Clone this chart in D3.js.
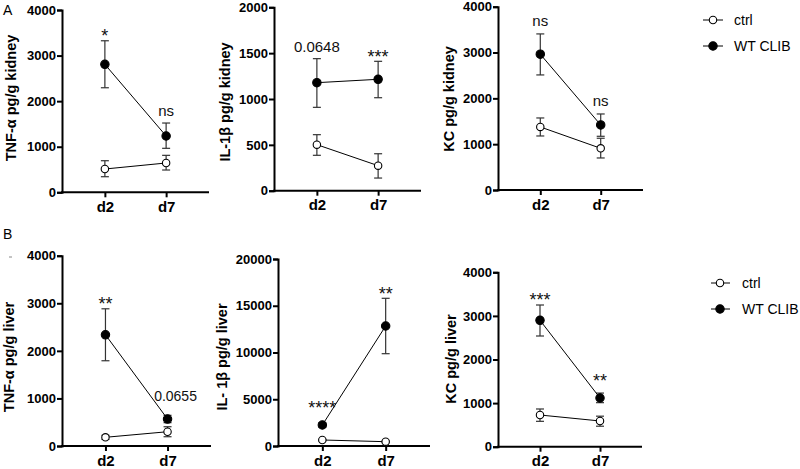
<!DOCTYPE html>
<html><head><meta charset="utf-8">
<script src="https://cdn.jsdelivr.net/npm/d3@7"></script>
<style>body{margin:0;background:#fff}svg{display:block}</style>
</head><body>
<script>
// ---------- data ----------
const days = ["d2", "d7"];
const seriesNames = ["ctrl", "WT CLIB"];

// A: kidney
const tnfKidneyCtrl = [511, 643], tnfKidneyCtrlLo = [342, 489], tnfKidneyCtrlHi = [693, 811];
const tnfKidneyWT = [2807, 1235], tnfKidneyWTLo = [2294, 965], tnfKidneyWTHi = [3325, 1520];
const il1bKidneyCtrl = [502, 273], il1bKidneyCtrlLo = [386, 138], il1bKidneyCtrlHi = [611, 403];
const il1bKidneyWT = [1178, 1215], il1bKidneyWTLo = [909, 1014], il1bKidneyWTHi = [1440, 1411];
const kcKidneyCtrl = [1376, 910], kcKidneyCtrlLo = [1179, 699], kcKidneyCtrlHi = [1572, 1129];
const kcKidneyWT = [2963, 1419], kcKidneyWTLo = [2511, 1172], kcKidneyWTHi = [3406, 1659];
// B: liver
const tnfLiverCtrl = [183, 300], tnfLiverCtrlLo = [140, 195], tnfLiverCtrlHi = [225, 405];
const tnfLiverWT = [2338, 567], tnfLiverWTLo = [1792, 490], tnfLiverWTHi = [2884, 645];
const il1bLiverCtrl = [642, 460], il1bLiverCtrlLo = [560, 390], il1bLiverCtrlHi = [720, 530];
const il1bLiverWT = [2246, 12834], il1bLiverWTLo = [2000, 9872], il1bLiverWTHi = [2500, 15797];
const kcLiverCtrl = [727, 590], kcLiverCtrlLo = [582, 470], kcLiverCtrlHi = [865, 700];
const kcLiverWT = [2899, 1117], kcLiverWTLo = [2539, 1010], kcLiverWTHi = [3250, 1230];

// tick labels
const ticks4000 = [0, 1000, 2000, 3000, 4000];
const ticks2000 = [0, 500, 1000, 1500, 2000];
const ticks20000 = [0, 5000, 10000, 15000, 20000];

// significance labels
const tnfKidneySig = ["*", "ns"];
const il1bKidneySig = ["0.0648", "***"];
const kcKidneySig = ["ns", "ns"];
const tnfLiverSig = ["**", "0.0655"];
const il1bLiverSig = ["****", "**"];
const kcLiverSig = ["***", "**"];

// y titles
const titles = ["TNF-α pg/g kidney", "IL-1β pg/g kidney", "KC pg/g kidney",
                "TNF-α pg/g liver", "IL- 1β pg/g liver", "KC pg/g liver"];

// ---------- layout (positions only) ----------
const layout = [
  {x0: 62,  x1: 209, top: 10,    bot: 192.3, tx: 11,  ty: 98,  sigSize: 15, noteDx: 0, noteGap: 7},
  {x0: 274, x1: 421, top: 7.3,   bot: 190.7, tx: 225, ty: 102, sigSize: 15, noteDx: 0, noteGap: 7},
  {x0: 498, x1: 643, top: 6.7,   bot: 190,   tx: 449, ty: 99,  sigSize: 15, noteDx: 0, noteGap: 8},
  {x0: 62,  x1: 211, top: 255.7, bot: 446,   tx: 9,   ty: 357, sigSize: 14, noteDx: 8, noteGap: 14},
  {x0: 278, x1: 430, top: 259,   bot: 446,   tx: 222, ty: 357, sigSize: 14, noteDx: 0, noteGap: 7},
  {x0: 498, x1: 642, top: 272.3, bot: 446.7, tx: 451, ty: 359, sigSize: 14, noteDx: 0, noteGap: 7}
];

const panels = [
  {ticks: ticks4000, ctrl: [tnfKidneyCtrl, tnfKidneyCtrlLo, tnfKidneyCtrlHi], wt: [tnfKidneyWT, tnfKidneyWTLo, tnfKidneyWTHi], sig: tnfKidneySig},
  {ticks: ticks2000, ctrl: [il1bKidneyCtrl, il1bKidneyCtrlLo, il1bKidneyCtrlHi], wt: [il1bKidneyWT, il1bKidneyWTLo, il1bKidneyWTHi], sig: il1bKidneySig},
  {ticks: ticks4000, ctrl: [kcKidneyCtrl, kcKidneyCtrlLo, kcKidneyCtrlHi], wt: [kcKidneyWT, kcKidneyWTLo, kcKidneyWTHi], sig: kcKidneySig},
  {ticks: ticks4000, ctrl: [tnfLiverCtrl, tnfLiverCtrlLo, tnfLiverCtrlHi], wt: [tnfLiverWT, tnfLiverWTLo, tnfLiverWTHi], sig: tnfLiverSig},
  {ticks: ticks20000, ctrl: [il1bLiverCtrl, il1bLiverCtrlLo, il1bLiverCtrlHi], wt: [il1bLiverWT, il1bLiverWTLo, il1bLiverWTHi], sig: il1bLiverSig},
  {ticks: ticks4000, ctrl: [kcLiverCtrl, kcLiverCtrlLo, kcLiverCtrlHi], wt: [kcLiverWT, kcLiverWTLo, kcLiverWTHi], sig: kcLiverSig}
];

const FONT = "'Liberation Sans', Arial, Helvetica, sans-serif";
const svg = d3.select("body").append("svg").attr("width", 800).attr("height", 469)
  .style("font-family", FONT);

// panel letters
svg.append("text").attr("x", 3).attr("y", 15).attr("font-size", 14).text("A");
svg.append("text").attr("x", 3).attr("y", 239).attr("font-size", 14).text("B");
svg.append("line").attr("x1", 9).attr("x2", 12).attr("y1", 257).attr("y2", 257)
  .attr("stroke", "#888").attr("stroke-width", 1);

panels.forEach((p, i) => {
  const L = layout[i];
  const g = svg.append("g");
  const yMax = p.ticks[p.ticks.length - 1];
  const y = d3.scaleLinear().domain([0, yMax]).range([L.bot, L.top]);
  const x = d3.scalePoint().domain(days).range([L.x0, L.x1]).padding(0.7);

  // y axis
  const ya = g.append("g").attr("transform", `translate(${L.x0},0)`)
    .call(d3.axisLeft(y).tickValues(p.ticks).tickFormat(d3.format("d")).tickSizeOuter(0).tickSize(5).tickPadding(1));
  ya.select(".domain").attr("stroke", "#000").attr("stroke-width", 2);
  ya.selectAll(".tick line").attr("stroke", "#000").attr("stroke-width", 2);
  ya.selectAll(".tick text").attr("font-size", 13).attr("font-weight", "bold")
    .attr("font-family", FONT).attr("fill", "#000");

  // x axis
  const xa = g.append("g").attr("transform", `translate(0,${L.bot})`)
    .call(d3.axisBottom(x).tickSize(5).tickSizeOuter(0).tickPadding(4));
  xa.select(".domain").remove();
  xa.append("line").attr("x1", L.x0 - 1).attr("x2", L.x1).attr("stroke", "#000").attr("stroke-width", 2);
  xa.selectAll(".tick line").attr("stroke", "#000").attr("stroke-width", 2);
  xa.selectAll(".tick text").attr("font-size", 15).attr("font-weight", "bold")
    .attr("font-family", FONT).attr("fill", "#000");

  // title
  g.append("text").attr("transform", `translate(${L.tx},${L.ty}) rotate(-90)`)
    .attr("text-anchor", "middle").attr("dy", "0.35em")
    .attr("font-size", 14.5).attr("font-weight", "bold").text(titles[i]);

  const drawSeries = (s, filled) => {
    const [m, lo, hi] = s;
    const pts = days.map((d, k) => ({d, m: m[k], lo: lo[k], hi: hi[k]}));
    pts.forEach(q => {
      const cx = x(q.d);
      g.append("line").attr("x1", cx).attr("x2", cx).attr("y1", y(q.lo)).attr("y2", y(q.hi))
        .attr("stroke", "#333").attr("stroke-width", 1.2);
      [q.lo, q.hi].forEach(v => g.append("line").attr("x1", cx - 4).attr("x2", cx + 4)
        .attr("y1", y(v)).attr("y2", y(v)).attr("stroke", "#333").attr("stroke-width", 1.2));
    });
    g.append("path").datum(pts)
      .attr("d", d3.line().x(q => x(q.d)).y(q => y(q.m)))
      .attr("fill", "none").attr("stroke", "#000").attr("stroke-width", 1);
    g.selectAll(null).data(pts).enter().append("circle")
      .attr("cx", q => x(q.d)).attr("cy", q => y(q.m))
      .attr("r", filled ? 4.2 : 3.7)
      .attr("fill", filled ? "#000" : "#fff").attr("stroke", "#000").attr("stroke-width", 1.1);
  };
  drawSeries(p.ctrl, false);
  drawSeries(p.wt, true);

  // significance
  days.forEach((d, k) => {
    const txt = p.sig[k];
    const isStar = txt.indexOf("*") >= 0;
    if (isStar) {
      const center = Math.min(y(p.wt[2][k]) - 9, y(p.wt[0][k]) - 21);
      g.append("text").attr("x", x(d)).attr("y", center + 10.4)
        .attr("text-anchor", "middle").attr("font-size", 18)
        .attr("fill", "#111").text(txt);
    } else {
      g.append("text").attr("x", x(d) + L.noteDx).attr("y", y(p.wt[2][k]) - L.noteGap)
        .attr("text-anchor", "middle").attr("font-size", L.sigSize)
        .attr("fill", "#111").text(txt);
    }
  });
});

// legends
const legends = [
  {mx: 713, lx0: 703, lx1: 723, tx: 734, ys: [20, 46]},
  {mx: 720, lx0: 711, lx1: 730, tx: 742, ys: [283, 309]}
];
legends.forEach(Lg => {
  seriesNames.forEach((name, k) => {
    const yy = Lg.ys[k];
    svg.append("line").attr("x1", Lg.lx0).attr("x2", Lg.lx1).attr("y1", yy).attr("y2", yy)
      .attr("stroke", "#000").attr("stroke-width", 1);
    svg.append("circle").attr("cx", Lg.mx).attr("cy", yy).attr("r", k ? 4.2 : 3.7)
      .attr("fill", k ? "#000" : "#fff").attr("stroke", "#000").attr("stroke-width", 1.1);
    svg.append("text").attr("x", Lg.tx).attr("y", yy).attr("dy", "0.35em")
      .attr("font-size", 14).attr("fill", "#000").text(name);
  });
});
</script>
</body></html>
